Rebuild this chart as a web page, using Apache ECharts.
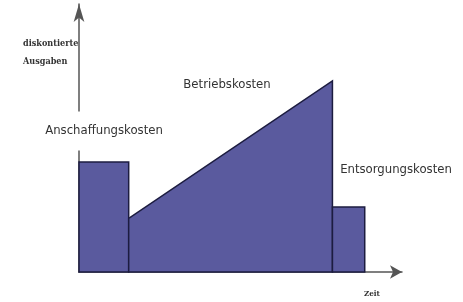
<!DOCTYPE html>
<html>
<head>
<meta charset="utf-8">
<script src="https://cdn.jsdelivr.net/npm/echarts@6/dist/echarts.min.js"></script>
<style>
  html, body { margin: 0; padding: 0; background: #fff; }
  #chart { width: 463px; height: 302px; }
</style>
</head>
<body>
<div id="chart"></div>
<script>
// Lebenszykluskosten: Phasen mit Beginn/Ende auf der Zeitachse
const phases = ['Anschaffungskosten', 'Betriebskosten', 'Entsorgungskosten'];
const startTime = [0, 2, 10.2];
const endTime = [2, 10.2, 11.5];
const startCost = [41, 20, 24.3];
const endCost = [41, 71.3, 24.3];

const yAxisName = ['diskontierte', 'Ausgaben'];
const xAxisName = 'Zeit';

const chart = echarts.init(document.getElementById('chart'));

const labelFont = '"DejaVu Sans Condensed", sans-serif';
const smallFont = 'bold 9px "DejaVu Serif Condensed", serif';

const option = {
  animation: false,
  grid: { left: 79, right: 61, top: 4, bottom: 30 },
  xAxis: {
    type: 'value',
    min: 0,
    max: 13,
    axisLine: {
      lineStyle: { color: '#555', width: 1.5 },
      symbol: ['none', 'arrow'],
      symbolSize: [10, 12]
    },
    axisTick: { show: false },
    axisLabel: { show: false },
    splitLine: { show: false }
  },
  yAxis: {
    type: 'value',
    min: 0,
    max: 100,
    axisLine: {
      lineStyle: { color: '#555', width: 1.5 },
      symbol: ['none', 'arrow'],
      symbolSize: [8, 18]
    },
    axisTick: { show: false },
    axisLabel: { show: false },
    splitLine: { show: false }
  },
  graphic: [
    {
      type: 'text', left: 23, top: 39, z: 100,
      style: { text: yAxisName[0], font: smallFont, fill: '#333' }
    },
    {
      type: 'text', left: 23, top: 57, z: 100,
      style: { text: yAxisName[1], font: smallFont, fill: '#333' }
    },
    {
      type: 'text', left: 364, top: 290, z: 100,
      style: { text: xAxisName, font: 'bold 8px "DejaVu Serif Condensed", serif', fill: '#333' }
    },
    {
      type: 'text', x: 104, y: 131, z: 100,
      style: {
        text: phases[0], font: '13px ' + labelFont, fill: '#333',
        align: 'center', verticalAlign: 'middle',
        backgroundColor: '#fff', padding: [13, 2]
      }
    },
    {
      type: 'text', x: 227, y: 85, z: 100,
      style: {
        text: phases[1], font: '13px ' + labelFont, fill: '#333',
        align: 'center', verticalAlign: 'middle'
      }
    },
    {
      type: 'text', x: 396, y: 170, z: 100,
      style: {
        text: phases[2], font: '13px ' + labelFont, fill: '#333',
        align: 'center', verticalAlign: 'middle'
      }
    }
  ],
  series: [
    {
      type: 'custom',
      name: 'Kosten',
      data: phases.map((p, i) => [startTime[i], endTime[i], startCost[i], endCost[i]]),
      encode: { x: [0, 1], y: [2, 3] },
      renderItem: (params, api) => {
        const x0 = api.value(0);
        const x1 = api.value(1);
        const pts = [
          api.coord([x0, 0]),
          api.coord([x0, api.value(2)]),
          api.coord([x1, api.value(3)]),
          api.coord([x1, 0])
        ];
        return {
          type: 'polygon',
          shape: { points: pts },
          style: { fill: '#5a5a9e', stroke: '#1c1c40', lineWidth: 1.5 }
        };
      }
    }
  ]
};

chart.setOption(option);
</script>
</body>
</html>
